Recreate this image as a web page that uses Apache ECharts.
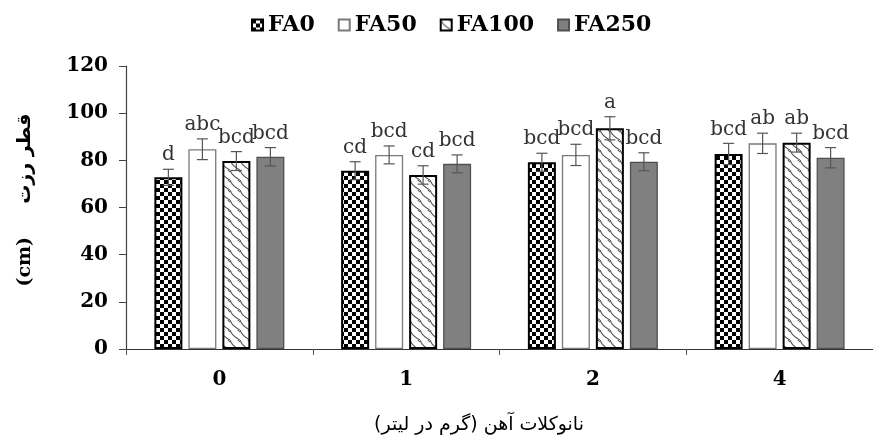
<!DOCTYPE html>
<html>
<head>
<meta charset="utf-8">
<script src="https://cdn.jsdelivr.net/npm/echarts@6/dist/echarts.min.js"></script>
<style>html,body{margin:0;padding:0;background:#fff}#c{width:873px;height:445px}</style>
</head>
<body>
<div id="c"></div>
<script>
// ---- data ----
var categories = ['0', '1', '2', '4'];
var seriesNames = ['FA0', 'FA50', 'FA100', 'FA250'];
var fa0 = [72.8, 75.6, 79.2, 82.7];
var fa50 = [84.7, 82.3, 82.3, 87.2];
var fa100 = [79.7, 73.8, 93.6, 87.5];
var fa250 = [81.5, 78.5, 79.4, 81.1];
var err0 = [3.4, 3.8, 3.8, 4.5];
var err50 = [4.4, 3.8, 4.5, 4.3];
var err100 = [4.0, 3.9, 4.9, 4.0];
var err250 = [3.9, 3.8, 3.8, 4.3];
var let0 = ['d', 'cd', 'bcd', 'bcd'];
var let50 = ['abc', 'bcd', 'bcd', 'ab'];
var let100 = ['bcd', 'cd', 'a', 'ab'];
var let250 = ['bcd', 'bcd', 'bcd', 'bcd'];
var yTicks = [0, 20, 40, 60, 80, 100, 120];
var xTitle = 'نانوكلات آهن (گرم در ليتر)';
var yTitle = '(cm)     قطر رزت';

// ---- patterns ----
function checker() {
  var c = document.createElement('canvas'); c.width = 8; c.height = 8;
  var g = c.getContext('2d');
  g.fillStyle = '#fff'; g.fillRect(0, 0, 8, 8);
  g.fillStyle = '#000'; g.fillRect(0, 0, 4, 4); g.fillRect(4, 4, 4, 4);
  return c;
}
function zigzag() {
  var c = document.createElement('canvas'); c.width = 10; c.height = 10;
  var g = c.getContext('2d');
  g.fillStyle = '#fff'; g.fillRect(0, 0, 10, 10);
  g.strokeStyle = '#555'; g.lineWidth = 1.1;
  g.beginPath();
  g.moveTo(0, 0); g.quadraticCurveTo(2, 6, 10, 10);
  g.moveTo(-5, 5); g.quadraticCurveTo(-3, 11, 5, 15);
  g.moveTo(5, -5); g.quadraticCurveTo(7, 1, 15, 5);
  g.stroke();
  return c;
}
var styles = [
  { color: { image: checker(), repeat: 'repeat' }, borderColor: '#000', borderWidth: 2 },
  { color: '#fff', borderColor: '#7a7a7a', borderWidth: 1.3 },
  { color: { image: zigzag(), repeat: 'repeat' }, borderColor: '#000', borderWidth: 2 },
  { color: '#808080', borderColor: '#505050', borderWidth: 1.3 }
];
var values = [fa0, fa50, fa100, fa250];
var errs = [err0, err50, err100, err250];
var lets = [let0, let50, let100, let250];
var BAR_W = 28, STEP = 34;

var series = [];
seriesNames.forEach(function (n, i) {
  series.push({
    name: n, type: 'bar', data: values[i], barWidth: BAR_W, barGap: (6 / 28 * 100) + '%',
    itemStyle: styles[i], emphasis: { disabled: true }, z: 2
  });
});
seriesNames.forEach(function (n, i) {
  var d = values[i].map(function (v, k) { return [k, v, errs[i][k], lets[i][k]]; });
  series.push({
    name: n + '_err', type: 'custom', data: d, z: 5, silent: true,
    renderItem: function (params, api) {
      var k = api.value(0), v = api.value(1), e = api.value(2);
      var lab = d[params.dataIndex][3];
      var off = (i - 1.5) * STEP;
      var top = api.coord([k, v + e]);
      var bot = api.coord([k, v - e]);
      var x = top[0] + off;
      var cap = 5.5;
      var st = { stroke: '#555', lineWidth: 1.2 };
      return {
        type: 'group', children: [
          { type: 'line', shape: { x1: x, y1: top[1], x2: x, y2: bot[1] }, style: st },
          { type: 'line', shape: { x1: x - cap, y1: top[1], x2: x + cap, y2: top[1] }, style: st },
          { type: 'line', shape: { x1: x - cap, y1: bot[1], x2: x + cap, y2: bot[1] }, style: st },
          { type: 'text', style: { text: lab, x: x, y: top[1] - 4, align: 'center', verticalAlign: 'bottom',
            font: '20px "DejaVu Serif"', fill: '#333' } }
        ]
      };
    }
  });
});

var chart = echarts.init(document.getElementById('c'), null, { renderer: 'canvas' });
chart.setOption({
  animation: false,
  backgroundColor: '#fff',
  legend: {
    data: seriesNames, left: 246, top: 9, itemWidth: 11, itemHeight: 11, itemGap: 23,
    icon: 'rect',
    textStyle: { fontFamily: 'DejaVu Serif', fontWeight: 'bold', fontSize: 22, color: '#000' }
  },
  grid: { left: 126, right: -7, top: 66, bottom: 96, containLabel: false },
  xAxis: {
    type: 'category', data: categories, boundaryGap: true,
    axisLine: { lineStyle: { color: '#333', width: 1.2 } },
    axisTick: { show: true, length: 6, lineStyle: { color: '#555' } },
    axisLabel: { margin: 21, fontFamily: 'DejaVu Serif', fontWeight: 'bold', fontSize: 20, color: '#000' }
  },
  yAxis: {
    type: 'value', min: yTicks[0], max: yTicks[yTicks.length - 1], interval: yTicks[1] - yTicks[0],
    axisLine: { show: true, lineStyle: { color: '#444', width: 1.2 } },
    axisTick: { show: true, length: 7, lineStyle: { color: '#444' } },
    splitLine: { show: false },
    axisLabel: { margin: 18, fontFamily: 'DejaVu Serif', fontWeight: 'bold', fontSize: 20, color: '#000' }
  },
  graphic: [
    { type: 'text', x: 479, y: 425, style: { text: '\u200F' + xTitle + '\u200F', align: 'center', verticalAlign: 'middle',
      font: '19px "DejaVu Sans"', fill: '#000' } },
    { type: 'text', x: 25, y: 200, rotation: Math.PI / 2, style: { text: yTitle, align: 'center', verticalAlign: 'middle',
      font: 'bold 19px "DejaVu Serif", "DejaVu Sans"', fill: '#000' } }
  ],
  series: series
});
</script>
</body>
</html>
